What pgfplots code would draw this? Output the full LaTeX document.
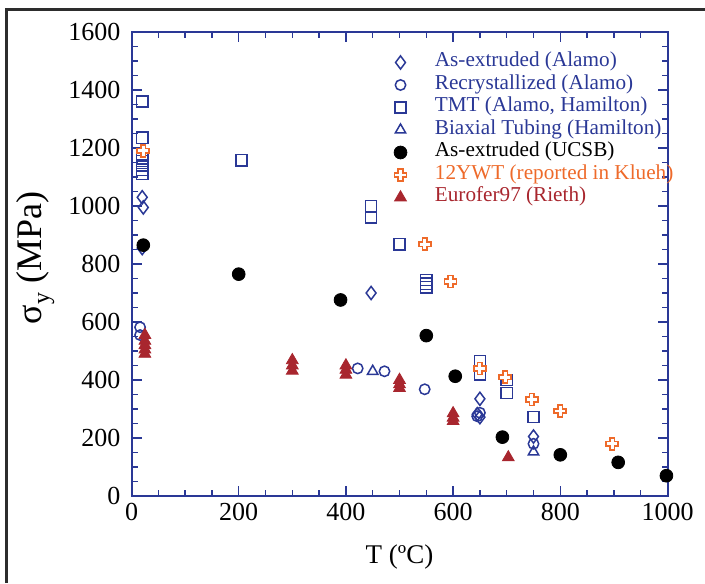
\documentclass[border=0pt]{standalone}
\usepackage{fontspec}
\setmainfont{Liberation Serif}
\usepackage{pgfplots}
\pgfplotsset{compat=1.18}

\definecolor{axisblue}{RGB}{42,56,150}
\definecolor{ywtorange}{RGB}{238,106,42}
\definecolor{eured}{RGB}{168,38,46}
\definecolor{framegray}{RGB}{45,45,45}

% hollow Greek cross used for the 12YWT points
\pgfdeclareplotmark{hplus}{%
  \pgfpathmoveto{\pgfqpoint{-0.38\pgfplotmarksize}{\pgfplotmarksize}}%
  \pgfpathlineto{\pgfqpoint{0.38\pgfplotmarksize}{\pgfplotmarksize}}%
  \pgfpathlineto{\pgfqpoint{0.38\pgfplotmarksize}{0.38\pgfplotmarksize}}%
  \pgfpathlineto{\pgfqpoint{\pgfplotmarksize}{0.38\pgfplotmarksize}}%
  \pgfpathlineto{\pgfqpoint{\pgfplotmarksize}{-0.38\pgfplotmarksize}}%
  \pgfpathlineto{\pgfqpoint{0.38\pgfplotmarksize}{-0.38\pgfplotmarksize}}%
  \pgfpathlineto{\pgfqpoint{0.38\pgfplotmarksize}{-\pgfplotmarksize}}%
  \pgfpathlineto{\pgfqpoint{-0.38\pgfplotmarksize}{-\pgfplotmarksize}}%
  \pgfpathlineto{\pgfqpoint{-0.38\pgfplotmarksize}{-0.38\pgfplotmarksize}}%
  \pgfpathlineto{\pgfqpoint{-\pgfplotmarksize}{-0.38\pgfplotmarksize}}%
  \pgfpathlineto{\pgfqpoint{-\pgfplotmarksize}{0.38\pgfplotmarksize}}%
  \pgfpathlineto{\pgfqpoint{-0.38\pgfplotmarksize}{0.38\pgfplotmarksize}}%
  \pgfpathclose
  \pgfusepathqfillstroke
}

\newcommand{\legtext}[2]{\hspace{14pt}{\fontsize{10.6}{10.6}\selectfont\textcolor{#1}{#2}}}

\begin{document}
\begin{tikzpicture}
\path[use as bounding box] (-65.75pt,-43.5pt) rectangle (286.75pt,248pt);
\begin{axis}[
  at={(0,0)}, anchor=south west,
  scale only axis, width=268pt, height=232pt,
  xmin=0, xmax=1000, ymin=0, ymax=1600,
  xtick={0,200,...,1000}, ytick={0,200,...,1600},
  minor x tick num=3, minor y tick num=3,
  tick align=inside,
  major tick length=5pt, minor tick length=3pt,
  axis line style={axisblue, line width=1pt},
  every tick/.style={axisblue, line width=0.7pt},
  tick label style={font=\fontsize{13}{13}\selectfont, black},
  yticklabel style={xshift=-2pt},
  /pgf/number format/assume math mode=true,
  /pgf/number format/1000 sep={},
  xlabel={\fontsize{13.5}{13.5}\selectfont T (ºC)},
  xlabel style={at={(axis description cs:0.5,-0.1315)}, anchor=center},
  ylabel={\fontsize{18}{18}\selectfont σ\raisebox{-0.45ex}{\fontsize{12}{12}\selectfont y} (MPa)},
  ylabel style={at={(axis description cs:-0.179,0.513)}, anchor=center},
  legend cell align=left,
  legend image code/.code={\draw[#1] plot coordinates {(6pt,0pt)};},
  legend style={draw=none, fill=none, at={(axis description cs:0.478,0.968)}, anchor=north west,
    row sep=0pt, column sep=0pt,
    nodes={inner sep=0pt, text height=7.7pt, text depth=3.55pt}},
]
% As-extruded (Alamo)
\addplot[only marks, mark=diamond, mark size=3.3pt, axisblue, mark options={line width=0.75pt}]
  coordinates {(20,1030) (22,995) (20,855) (447,700) (650,335) (645,282) (650,272) (750,205)};
\addlegendentry{\legtext{axisblue}{As-extruded (Alamo)}}
% Recrystallized (Alamo)
\addplot[only marks, mark=o, mark size=2.6pt, axisblue, mark options={line width=0.75pt}]
  coordinates {(16,582) (16,555) (422,440) (472,430) (547,368) (645,275) (650,287) (750,180)};
\addlegendentry{\legtext{axisblue}{Recrystallized (Alamo)}}
% TMT (Alamo, Hamilton)
\addplot[only marks, mark=square, mark size=2.8pt, axisblue, mark options={line width=0.75pt}]
  coordinates {(20,1360) (20,1235) (20,1172) (20,1155) (20,1140) (20,1125) (20,1110)
    (205,1158) (447,1000) (447,960) (500,868) (550,745) (550,732) (550,720)
    (650,465) (650,420) (700,400) (700,355) (750,272)};
\addlegendentry{\legtext{axisblue}{TMT (Alamo, Hamilton)}}
% Biaxial Tubing (Hamilton)
\addplot[only marks, mark=triangle, mark size=3pt, axisblue, mark options={line width=0.75pt}]
  coordinates {(450,430) (750,152)};
\addlegendentry{\legtext{axisblue}{Biaxial Tubing (Hamilton)}}
% As-extruded (UCSB)
\addplot[only marks, mark=*, mark size=3.2pt, black]
  coordinates {(22,865) (200,765) (390,676) (550,553) (604,413) (692,203) (800,142) (908,116) (998,70)};
\addlegendentry{\legtext{black}{As-extruded (UCSB)}}
% 12YWT (reported in Klueh)
\addplot[only marks, mark=hplus, mark size=3pt, ywtorange, mark options={fill=white, line width=0.85pt}]
  coordinates {(22,1190) (547,868) (595,740) (650,440) (697,410) (747,333) (800,293) (897,180)};
\addlegendentry{\legtext{ywtorange}{12YWT (reported in Klueh)}}
% Eurofer97 (Rieth)
\addplot[only marks, mark=triangle*, mark size=3.4pt, eured]
  coordinates {(25,555) (25,535) (25,520) (25,505) (25,490)
    (300,468) (300,450) (300,432) (400,450) (400,435) (400,418)
    (500,400) (500,385) (500,372) (600,285) (600,270) (600,258) (703,133)};
\addlegendentry{\legtext{eured}{Eurofer97 (Rieth)}}
\end{axis}
% outer frame
\draw[framegray, line width=1.6pt] (-62.6pt,-43.5pt) -- (-62.6pt,243.35pt) -- (286.75pt,243.35pt);
\end{tikzpicture}
\end{document}
